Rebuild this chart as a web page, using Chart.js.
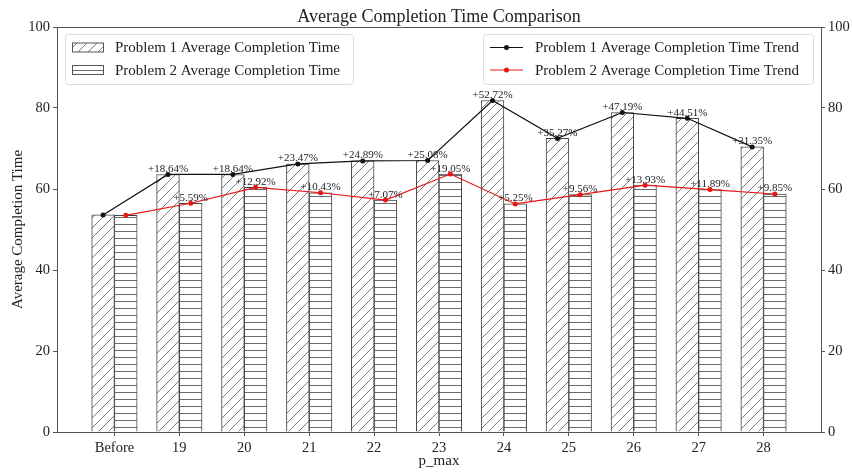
<!DOCTYPE html>
<html>
<head>
<meta charset="utf-8">
<title>Average Completion Time Comparison</title>
<script src="https://cdn.jsdelivr.net/npm/chart.js@4.4.1/dist/chart.umd.min.js"></script>
<style>
  html, body { margin: 0; padding: 0; background: #fff; }
  #chart { display: block; }
</style>
</head>
<body>
<canvas id="chart" width="852" height="472"></canvas>
<script>
// ---- DATA ----
const categories = ['Before', '19', '20', '21', '22', '23', '24', '25', '26', '27', '28'];
const p1Times = [53.6, 63.59, 63.59, 66.18, 66.94, 67.04, 81.86, 72.50, 78.89, 77.46, 70.40];
const p2Times = [53.5, 56.49, 60.41, 59.08, 57.28, 63.69, 56.31, 58.61, 60.95, 59.86, 58.77];
const p1Changes = ['', '+18.64%', '+18.64%', '+23.47%', '+24.89%', '+25.08%', '+52.72%', '+35.27%', '+47.19%', '+44.51%', '+31.35%'];
const p2Changes = ['', '+5.59%', '+12.92%', '+10.43%', '+7.07%', '+19.05%', '+5.25%', '+9.56%', '+13.93%', '+11.89%', '+9.85%'];

const P1_LABEL = 'Problem 1 Average Completion Time';
const P2_LABEL = 'Problem 2 Average Completion Time';
const P1_TREND = 'Problem 1 Average Completion Time Trend';
const P2_TREND = 'Problem 2 Average Completion Time Trend';

// ---- STYLE ----
const SERIF = "'Liberation Serif', 'DejaVu Serif', serif";
const SHIFT = 0.175;          // half a bar, in category units
const AXIS_COLOR = '#555';
const TEXT_COLOR = '#222';
const RED = '#e81515';

Chart.defaults.font.family = SERIF;
Chart.defaults.color = TEXT_COLOR;

// hatch fills drawn on a small tile canvas
function makeHatch(kind) {
  const n = kind === 'diag' ? 10 : 7;
  const c = document.createElement('canvas');
  c.width = n; c.height = n;
  const g = c.getContext('2d');
  g.fillStyle = '#fff';
  g.fillRect(0, 0, n, n);
  g.strokeStyle = kind === 'diag' ? '#6e6e6e' : '#5a5a5a';
  g.lineWidth = 0.9;
  g.beginPath();
  if (kind === 'diag') {
    g.moveTo(-1, n + 1); g.lineTo(n + 1, -1);
    g.moveTo(-1, 1); g.lineTo(1, -1);
    g.moveTo(n - 1, n + 1); g.lineTo(n + 1, n - 1);
  } else {
    g.moveTo(0, 0.5); g.lineTo(n, 0.5);
  }
  g.stroke();
  return g.createPattern(c, 'repeat');
}
const diagHatch = makeHatch('diag');
const horizHatch = makeHatch('horiz');

const shifted = (arr, dx) => arr.map((v, i) => ({ x: i + dx, y: v }));

// ---- OVERLAY: title, frame, value labels, legends ----
const overlay = {
  id: 'overlay',
  afterDatasetsDraw(chart) {
    const ctx = chart.ctx;
    ctx.save();
    ctx.font = `11px ${SERIF}`;
    ctx.fillStyle = TEXT_COLOR;
    ctx.textAlign = 'center';
    ctx.textBaseline = 'alphabetic';
    [[2, p1Changes], [3, p2Changes]].forEach(([idx, labels]) => {
      chart.getDatasetMeta(idx).data.forEach((pt, i) => {
        if (labels[i]) ctx.fillText(labels[i], pt.x, pt.y - 2.5);
      });
    });
    ctx.restore();
  },
  afterDraw(chart) {
    const ctx = chart.ctx;
    const a = chart.chartArea;
    ctx.save();

    // top spine
    ctx.strokeStyle = AXIS_COLOR;
    ctx.lineWidth = 1;
    ctx.beginPath();
    ctx.moveTo(a.left, a.top + 0.5);
    ctx.lineTo(a.right, a.top + 0.5);
    ctx.stroke();

    // title
    ctx.fillStyle = TEXT_COLOR;
    ctx.font = `18px ${SERIF}`;
    ctx.textAlign = 'center';
    ctx.textBaseline = 'middle';
    ctx.fillText('Average Completion Time Comparison', (a.left + a.right) / 2, 17);

    // legend frames
    const frame = (x, y, w, h) => {
      ctx.fillStyle = 'rgba(255,255,255,0.85)';
      ctx.strokeStyle = '#dcdcdc';
      ctx.lineWidth = 1;
      ctx.beginPath();
      ctx.roundRect(x + 0.5, y + 0.5, w, h, 3);
      ctx.fill();
      ctx.stroke();
    };
    const rows = [47.5, 70];
    ctx.font = `15px ${SERIF}`;
    ctx.textAlign = 'left';
    ctx.textBaseline = 'middle';

    // bar legend
    frame(65, 34, 288, 50);
    const ds = chart.data.datasets;
    [ds[0], ds[1]].forEach((d, i) => {
      const y = rows[i];
      ctx.fillStyle = d.backgroundColor;
      ctx.strokeStyle = '#555';
      ctx.lineWidth = 1;
      ctx.fillRect(72, y - 4.5, 31, 9);
      ctx.strokeRect(72.5, y - 4.5, 31, 9);
      ctx.fillStyle = TEXT_COLOR;
      ctx.fillText(d.label, 115, y + 1);
    });

    // trend legend
    frame(483, 34, 330, 50);
    [ds[2], ds[3]].forEach((d, i) => {
      const y = rows[i];
      ctx.strokeStyle = d.borderColor;
      ctx.lineWidth = 1.2;
      ctx.beginPath();
      ctx.moveTo(490, y);
      ctx.lineTo(523, y);
      ctx.stroke();
      ctx.fillStyle = d.borderColor;
      ctx.beginPath();
      ctx.arc(506.5, y, 2.5, 0, Math.PI * 2);
      ctx.fill();
      ctx.fillStyle = TEXT_COLOR;
      ctx.fillText(d.label, 535, y + 1);
    });

    ctx.restore();
  }
};

// ---- CHART ----
const axisGrid = { display: true, drawOnChartArea: false, drawTicks: true, tickLength: 4, color: AXIS_COLOR };

new Chart(document.getElementById('chart'), {
  type: 'bar',
  data: {
    datasets: [
      {
        label: P1_LABEL,
        data: shifted(p1Times, -SHIFT),
        backgroundColor: diagHatch,
        borderColor: '#444',
        borderWidth: 1,
        grouped: false,
        categoryPercentage: 1,
        barPercentage: 1,
        order: 2
      },
      {
        label: P2_LABEL,
        data: shifted(p2Times, SHIFT),
        backgroundColor: horizHatch,
        borderColor: '#444',
        borderWidth: 1,
        grouped: false,
        categoryPercentage: 1,
        barPercentage: 1,
        order: 2
      },
      {
        type: 'line',
        label: P1_TREND,
        data: shifted(p1Times, -SHIFT),
        borderColor: '#111',
        backgroundColor: '#111',
        borderWidth: 1.2,
        pointRadius: 2.5,
        pointBorderWidth: 0,
        pointBackgroundColor: '#111',
        tension: 0,
        order: 1
      },
      {
        type: 'line',
        label: P2_TREND,
        data: shifted(p2Times, SHIFT),
        borderColor: RED,
        backgroundColor: RED,
        borderWidth: 1.2,
        pointRadius: 2.5,
        pointBorderWidth: 0,
        pointBackgroundColor: RED,
        tension: 0,
        order: 0
      }
    ]
  },
  options: {
    responsive: false,
    animation: false,
    devicePixelRatio: 1,
    layout: { padding: { top: 27, left: 0, right: 0, bottom: 0 } },
    plugins: {
      legend: { display: false },
      tooltip: { enabled: false }
    },
    scales: {
      x: {
        type: 'linear',
        offset: false,
        min: -0.885,
        max: categories.length - 1 + 0.885,
        grid: { ...axisGrid, offset: false },
        border: { color: AXIS_COLOR },
        ticks: {
          stepSize: 1,
          includeBounds: false,
          autoSkip: false,
          maxRotation: 0,
          padding: 3,
          color: TEXT_COLOR,
          font: { size: 14.5 },
          callback: v => categories[v] ?? ''
        },
        title: { display: true, text: 'p_max', font: { size: 15 }, color: TEXT_COLOR, padding: { top: 0, bottom: 2 } },
        afterFit: s => { s.height = 40; }
      },
      y: {
        position: 'left',
        min: 0,
        max: 100,
        grid: axisGrid,
        border: { color: AXIS_COLOR },
        ticks: { stepSize: 20, padding: 3, color: TEXT_COLOR, font: { size: 14.5 } },
        title: { display: true, text: 'Average Completion Time', font: { size: 15 }, color: TEXT_COLOR, padding: { top: 9, bottom: 0 } },
        afterFit: s => { s.width = 57; }
      },
      y2: {
        position: 'right',
        min: 0,
        max: 100,
        grid: axisGrid,
        border: { color: AXIS_COLOR },
        ticks: { stepSize: 20, padding: 3, color: TEXT_COLOR, font: { size: 14.5 } },
        afterFit: s => { s.width = 31; }
      }
    }
  },
  plugins: [overlay]
});
</script>
</body>
</html>
